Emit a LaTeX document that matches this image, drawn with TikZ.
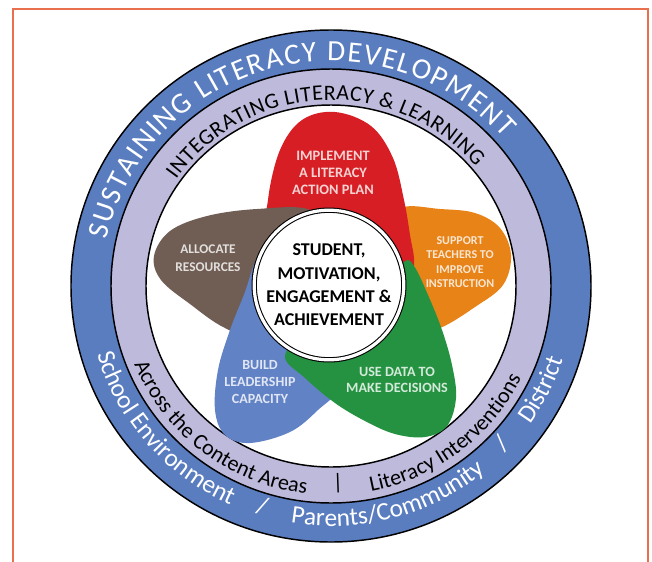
\documentclass[tikz,border=0pt]{standalone}
\usepackage{fontspec}
\setmainfont{Carlito}
\usetikzlibrary{decorations.text}

\definecolor{ringblue}{RGB}{90,125,192}
\definecolor{ringlilac}{RGB}{190,186,220}
\definecolor{pred}{RGB}{214,30,36}
\definecolor{porange}{RGB}{232,131,24}
\definecolor{pbrown}{RGB}{112,94,84}
\definecolor{pblue}{RGB}{98,130,198}
\definecolor{pgreen}{RGB}{36,146,64}
\definecolor{edgeorange}{RGB}{232,112,78}

\newcommand\bandfont{\fontsize{19}{19}\selectfont}
\newcommand\topbandfont{\fontsize{22}{22}\selectfont}
\newcommand\lilacfont{\fontsize{16.5}{16.5}\selectfont}

\begin{document}
\begin{tikzpicture}[
x=0.75pt, y=0.75pt,
petal/.style={fill=#1},
lbl/.style={text=white!80!#1, align=center, inner sep=0pt},
ringline/.style={draw=black, line width=1.1pt},
arctext/.style 2 args={decorate, decoration={text along path, text align={fit to path}, text color=#1, text={#2}}},
midtext/.style 2 args={decorate, decoration={text along path, text align=center, text color=#1, text={#2}}}
]
\useasboundingbox (-331,-275) rectangle (321,286);

% frame, open at the bottom
\draw[edgeorange, line width=1.5pt] (-317.5,-285) -- (-317.5,276.5) -- (317,276.5) -- (317,-285);

% outer and inner band
\fill[ringblue] (0,0) ellipse [x radius=260, y radius=256];
\fill[ringlilac] (0,0) ellipse [x radius=220, y radius=217];
\fill[white] (0,0) ellipse [x radius=185, y radius=181];
\draw[ringline] (0,0) ellipse [x radius=260, y radius=256]
  (0,0) ellipse [x radius=220, y radius=217]
  (0,0) ellipse [x radius=185, y radius=181];

% band texts, top half
\path[arctext={white}{|\topbandfont|SUSTAINING LITERACY DEVELOPMENT}]
  (168:229 and 225) arc [start angle=168, end angle=41, x radius=229, y radius=225];
\path[arctext={black}{|\lilacfont|INTEGRATING LITERACY {\&} LEARNING}]
  (145:189 and 186) arc [start angle=145, end angle=40, x radius=189, y radius=186];

% band texts, bottom half (centred on their angle)
\path[midtext={white}{|\bandfont|School Environment}]
  (181:244 and 240) arc [start angle=181, end angle=261, x radius=244, y radius=240];
\path[midtext={white}{|\bandfont|Parents/Community}]
  (245:244 and 240) arc [start angle=245, end angle=325, x radius=244, y radius=240];
\path[midtext={white}{|\bandfont|District}]
  (303.5:244 and 240) arc [start angle=303.5, end angle=363.5, x radius=244, y radius=240];
\path[midtext={black}{|\lilacfont|Across the Content Areas}]
  (187.5:212 and 209) arc [start angle=187.5, end angle=277.5, x radius=212, y radius=209];
\path[midtext={black}{|\lilacfont|Literacy Interventions}]
  (262.5:212 and 209) arc [start angle=262.5, end angle=352.5, x radius=212, y radius=209];
\node[text=white, font=\bandfont, rotate=-17] (s1) at (253:234 and 230) {/};
\node[text=white, font=\bandfont, rotate=47] (s2) at (317:234 and 230) {/};
\node[font=\lilacfont, rotate=2] (s3) at (272:201 and 197) {|};

% petals, bottom one first
\fill[petal=porange] plot[smooth cycle, tension=0.6] coordinates
  {(69,78) (109,77) (144,73) (169,58) (180,31) (172,1) (144,-21) (109,-42) (84,-44) (39,-14) (44,51)};
\fill[petal=pred] plot[smooth cycle, tension=0.6] coordinates
  {(4,174) (40,160) (62,128) (73,86) (79,51) (83,21) (74,-9) (-1,-4) (-61,46) (-63,86) (-51,136) (-29,166)};
\fill[petal=pbrown] plot[smooth cycle, tension=0.6] coordinates
  {(-21,76) (-74,77) (-124,70) (-161,55) (-177,30) (-170,6) (-141,-18) (-106,-42) (-66,-54) (-31,-14) (-11,46)};
\fill[petal=pblue] plot[smooth cycle, tension=0.6] coordinates
  {(-55,45) (-74,28) (-86,-6) (-101,-44) (-113,-84) (-116,-124) (-106,-149) (-81,-157) (-41,-146) (-13,-124) (9,-99) (14,-44) (-31,20)};
\fill[petal=pgreen] plot[smooth cycle, tension=0.6] coordinates
  {(73,24) (83,20) (97,-9) (111,-44) (121,-79) (125,-112) (116,-140) (94,-151) (64,-148) (34,-135) (4,-117) (-26,-92) (-46,-70) (-21,-44) (49,-4)};

% hub
\node[circle, draw=black, line width=0.8pt, double=white, double distance=2.4pt, fill=white,
  minimum size=109pt, inner sep=0pt, align=center, font=\fontsize{13.5}{17.5}\selectfont\bfseries]
  (core) at (-2,1) {STUDENT,\\MOTIVATION,\\ENGAGEMENT \&\\ACHIEVEMENT};

% petal labels
\node[lbl=pred, font=\fontsize{10.8}{13}\selectfont\bfseries] (p1) at (2,113) {IMPLEMENT\\A LITERACY\\ACTION PLAN};
\node[lbl=porange, font=\fontsize{9}{10.8}\selectfont\bfseries] (p2) at (129,24) {SUPPORT\\TEACHERS TO\\IMPROVE\\INSTRUCTION};
\node[lbl=pgreen, font=\fontsize{10.6}{11.5}\selectfont\bfseries] (p3) at (66,-94) {USE DATA TO\\MAKE DECISIONS};
\node[lbl=pblue, font=\fontsize{10.5}{12.4}\selectfont\bfseries] (p4) at (-71,-96) {BUILD\\LEADERSHIP\\CAPACITY};
\node[lbl=pbrown, font=\fontsize{10}{13.5}\selectfont\bfseries] (p5) at (-123,28) {ALLOCATE\\RESOURCES};
\end{tikzpicture}
\end{document}
